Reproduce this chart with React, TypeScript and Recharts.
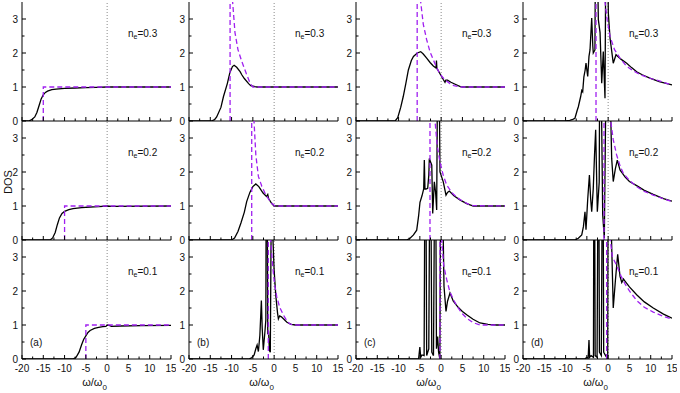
import React from "react";
import { LineChart, Line, XAxis, YAxis, ReferenceLine } from "recharts";

type Pt = [number, number];

const xTicks = [-20, -17.5, -15, -12.5, -10, -7.5, -5, -2.5, 0, 2.5, 5, 7.5, 10, 12.5, 15];
const yTicks = [0, 0.5, 1, 1.5, 2, 2.5, 3];
const densities = ["0.3", "0.2", "0.1"];
const panelTags = ["(a)", "(b)", "(c)", "(d)"];

// column (a)
const aBlack3: Pt[] = [[-20, 0], [-18.5, 0], [-17.8, 0.03], [-17, 0.12], [-16.5, 0.25], [-16, 0.45], [-15.5, 0.65], [-15, 0.77], [-14.5, 0.84], [-14, 0.88], [-13, 0.92], [-12, 0.94], [-10, 0.96], [-7.5, 0.97], [-5, 0.98], [-2.5, 0.99], [0, 1], [15, 1]];
const aPurple3: Pt[] = [[-15, 0], [-15, 1], [15, 1]];
const aBlack2: Pt[] = [[-20, 0], [-13.4, 0], [-12.8, 0.06], [-12.2, 0.22], [-11.7, 0.45], [-11.2, 0.65], [-10.6, 0.78], [-10, 0.84], [-9, 0.89], [-8, 0.92], [-6, 0.95], [-4, 0.97], [-2, 0.98], [0, 1], [1, 0.99], [15, 1]];
const aPurple2: Pt[] = [[-10, 0], [-10, 1], [15, 1]];
const aBlack1: Pt[] = [[-20, 0], [-8, 0], [-7.3, 0.05], [-6.6, 0.2], [-6, 0.42], [-5.5, 0.58], [-5, 0.68], [-4.5, 0.78], [-4, 0.84], [-3, 0.9], [-2, 0.93], [-1, 0.95], [-0.3, 0.96], [0, 1], [0.5, 0.99], [1, 0.96], [3, 0.97], [8, 0.98], [15, 0.99]];
const aPurple1: Pt[] = [[-5, 0], [-5, 1], [15, 1]];

// column (b)
const bBlack3: Pt[] = [[-20, 0], [-14.7, 0], [-14, 0.04], [-13.5, 0.12], [-12.5, 0.4], [-11.9, 0.72], [-11, 1.1], [-10.4, 1.42], [-9.8, 1.6], [-9.4, 1.64], [-8.8, 1.58], [-8, 1.45], [-7.6, 1.36], [-7, 1.25], [-6, 1.1], [-5.5, 1.04], [-4.5, 1.01], [-4, 1], [15, 1]];
const bPurple3: Pt[] = [[-10.35, 0], [-10.35, 6], [-9.9, 6], [-9.75, 3.5], [-9.2, 2.6], [-8.5, 2.1], [-7.6, 1.75], [-6.5, 1.38], [-5.6, 1.1], [-5, 1], [15, 1]];
const bBlack2: Pt[] = [[-20, 0], [-10, 0], [-9.3, 0.06], [-8.5, 0.25], [-7.8, 0.5], [-7, 0.82], [-6.45, 1.13], [-5.7, 1.4], [-5, 1.57], [-4.3, 1.65], [-3.6, 1.57], [-2.6, 1.38], [-1.8, 1.28], [-1.5, 1.34], [-1.3, 1.22], [-0.6, 1.08], [0, 1], [15, 1]];
const bPurple2: Pt[] = [[-5.27, 0], [-5.27, 6], [-4.9, 6], [-4.73, 3.5], [-4.3, 2.5], [-3.7, 1.87], [-2.9, 1.58], [-2.15, 1.38], [-1.3, 1.2], [-0.57, 1.08], [0.2, 1], [15, 1]];
const bBlack1: Pt[] = [[-20, 0], [-6, 0], [-5.3, 0.03], [-4.7, 0.12], [-4.3, 0.3], [-4, 0.41], [-3.7, 0.22], [-3.35, 0.7], [-3, 1.72], [-2.8, 0.9], [-2.55, 0.27], [-2.2, 0.75], [-1.95, 1.15], [-1.85, 6], [-1.65, 6], [-1.5, 0.76], [-1.3, 0.78], [-1.1, 0.25], [-0.9, 0.2], [-0.6, 6], [-0.3, 3.6], [0, 2.6], [0.4, 1.85], [0.8, 1.35], [1, 1.18], [1.3, 1.27], [1.7, 1.24], [2.3, 1.17], [3, 1.08], [4, 1.02], [5, 1], [15, 1]];
const bPurple1: Pt[] = [[-1.37, 0], [-1.37, 6], [-0.95, 6], [-0.8, 3.5], [-0.4, 2.8], [0.1, 2.2], [0.6, 1.84], [1.3, 1.52], [2.15, 1.3], [3, 1.12], [3.7, 1.03], [4.5, 1], [15, 1]];

// column (c)
const cBlack3: Pt[] = [[-20, 0], [-10.8, 0], [-10.2, 0.1], [-9.5, 0.4], [-8.9, 0.72], [-8.3, 1.1], [-7.7, 1.5], [-7, 1.78], [-6.5, 1.9], [-5.6, 2], [-4.8, 2.04], [-4.2, 1.97], [-3.4, 1.85], [-2.6, 1.72], [-1.84, 1.62], [-1.2, 1.56], [-1.1, 1.78], [-1, 1.55], [-0.27, 1.39], [0.5, 1.22], [0.9, 1.14], [1.1, 1.2], [1.5, 1.2], [2.3, 1.14], [3.3, 1.08], [4.5, 1.01], [5, 1], [15, 1]];
const cPurple3: Pt[] = [[-5.63, 0], [-5.63, 6], [-5, 6], [-4.8, 3.5], [-4.2, 2.85], [-3.4, 2.39], [-2.6, 2.03], [-1.84, 1.8], [-1, 1.56], [-0.27, 1.38], [0.8, 1.22], [2.08, 1.1], [3, 1.04], [4.4, 1], [15, 1]];
const cBlack2: Pt[] = [[-20, 0], [-8.1, 0], [-7.3, 0.05], [-6.5, 0.15], [-5.74, 0.29], [-5.3, 0.7], [-4.97, 1.11], [-4.5, 1.3], [-4.1, 1.5], [-3.95, 2.35], [-3.8, 1.5], [-3.56, 1.5], [-3.16, 1.52], [-2.9, 1.9], [-2.78, 2.4], [-2.5, 2.3], [-2.2, 2.2], [-1.98, 0.78], [-1.6, 1.71], [-1.3, 1.4], [-1.05, 0.88], [-0.8, 6], [-0.55, 6], [-0.27, 2], [0.5, 1.71], [1.14, 1.32], [1.5, 1.4], [1.92, 1.44], [3, 1.3], [4.4, 1.18], [6, 1.07], [7.55, 1], [15, 1]];
const cPurple2: Pt[] = [[-2.62, 0], [-2.62, 6], [-1.6, 6], [-1.44, 3.5], [-0.9, 2.75], [-0.27, 2.3], [0.5, 1.9], [1.3, 1.62], [2.48, 1.4], [3.8, 1.24], [5.2, 1.13], [6.5, 1.05], [7.55, 1.01], [15, 1]];
const cBlack1: Pt[] = [[-20, 0], [-5.3, 0], [-5, 0.35], [-4.8, 0.05], [-4.5, 0.12], [-4, 0.1], [-3.8, 6], [-3.6, 6], [-3.4, 0.1], [-2.9, 0.3], [-2.65, 6], [-2.45, 6], [-2.2, 0.2], [-1.8, 0.1], [-1.5, 6], [-1.3, 6], [-1.1, 0.3], [-0.82, 0.66], [-0.6, 0.2], [-0.3, 0], [-0.1, 6], [0.2, 6], [0.67, 2.14], [1.14, 1.4], [1.5, 1.7], [2.08, 1.94], [2.86, 1.7], [4, 1.52], [5, 1.4], [6, 1.3], [7.5, 1.17], [9.13, 1.06], [11, 1.02], [13, 1], [15, 1]];
const cPurple1: Pt[] = [[-0.27, 0], [-0.27, 6], [0, 6], [0.13, 3.5], [0.6, 2.75], [1.3, 2.34], [2, 2], [2.86, 1.75], [4, 1.5], [5, 1.33], [6, 1.2], [7.5, 1.07], [9.13, 1], [15, 1]];

// column (d)
const dBlack3: Pt[] = [[-20, 0], [-10.1, 0], [-9, 0.02], [-8.3, 0.05], [-7.8, 0.08], [-7.3, 0.3], [-7, 0.42], [-6.45, 0.72], [-6.2, 0.9], [-5.98, 0.86], [-5.7, 1.3], [-5.4, 1.5], [-5.2, 1.7], [-4.8, 1.31], [-4.5, 1.9], [-4.26, 2.09], [-3.86, 3.03], [-3.6, 2.2], [-3.49, 2], [-3.1, 2.09], [-2.95, 6], [-2.7, 6], [-2.3, 2.98], [-1.9, 2.6], [-1.51, 1.11], [-1.14, 2.04], [-0.74, 0.67], [-0.5, 6], [-0.2, 6], [0.04, 3.18], [0.44, 2.44], [1.2, 1.7], [1.85, 1.95], [2.3, 1.9], [3, 1.82], [4.36, 1.7], [5.5, 1.57], [6.7, 1.45], [8, 1.36], [9.8, 1.26], [12, 1.16], [15, 1.06]];
const dPurple3: Pt[] = [[-2.85, 0], [-2.85, 6], [-0.9, 6], [-0.74, 3.5], [-0.2, 2.95], [0.44, 2.49], [1.5, 2.1], [2.79, 1.85], [4, 1.66], [5, 1.55], [6.7, 1.42], [8, 1.34], [10, 1.25], [12.2, 1.17], [15, 1.06]];
const dBlack2: Pt[] = [[-20, 0], [-7.8, 0], [-7, 0.05], [-6.2, 0.15], [-5.8, 0.4], [-5.44, 0.83], [-5.2, 0.3], [-4.8, 1.2], [-4.4, 1.91], [-4.1, 1.2], [-3.86, 0.83], [-3.5, 1.5], [-3.2, 2.5], [-2.93, 3.24], [-2.54, 0.83], [-2.1, 1.7], [-1.95, 6], [-1.75, 6], [-1.28, 0.74], [-0.9, 0.05], [-0.4, 6], [0.2, 6], [0.83, 2.4], [1.2, 1.72], [1.7, 2.1], [2.15, 2.35], [2.79, 2.06], [4, 1.85], [5, 1.72], [6.7, 1.6], [8.5, 1.46], [10.6, 1.34], [13, 1.22], [15, 1.14]];
const dPurple2: Pt[] = [[-0.97, 0], [-0.97, 6], [0.4, 6], [0.6, 3.5], [1.2, 2.95], [2, 2.5], [2.8, 2.18], [3.56, 1.96], [5, 1.75], [6.7, 1.57], [8.5, 1.43], [10.6, 1.32], [13, 1.21], [15, 1.13]];
const dBlack1: Pt[] = [[-20, 0], [-5.5, 0], [-5, 0.05], [-4.7, 0.02], [-4.5, 0.56], [-4.35, 0.05], [-4, 0.1], [-3.45, 0.05], [-3.35, 6], [-3.2, 6], [-3.05, 0.1], [-2.6, 0.05], [-2.35, 6], [-2.2, 6], [-2.05, 0.2], [-1.6, 0.1], [-1.35, 6], [-1.2, 6], [-1.05, 0.2], [-0.6, 0.1], [-0.1, 0], [0, 6], [0.3, 6], [1.2, 1.5], [1.7, 2.3], [2.24, 3.08], [2.79, 2.43], [3.2, 2.25], [3.6, 2.35], [3.96, 2.29], [5, 2.12], [6.7, 1.89], [8.5, 1.68], [10.6, 1.5], [13, 1.32], [15, 1.2]];
const dPurple1: Pt[] = [[-0.35, 0], [-0.35, 6], [0.3, 6], [0.5, 3.5], [1, 3], [2, 2.75], [3, 2.45], [4, 2.2], [5, 2], [6.7, 1.72], [8.5, 1.52], [10.6, 1.38], [13, 1.25], [15, 1.17]];

const blackSeries: Pt[][][] = [
  [aBlack3, aBlack2, aBlack1],
  [bBlack3, bBlack2, bBlack1],
  [cBlack3, cBlack2, cBlack1],
  [dBlack3, dBlack2, dBlack1],
];
const purpleSeries: Pt[][][] = [
  [aPurple3, aPurple2, aPurple1],
  [bPurple3, bPurple2, bPurple1],
  [cPurple3, cPurple2, cPurple1],
  [dPurple3, dPurple2, dPurple1],
];

const FONT = "'Liberation Sans', Arial, Helvetica, sans-serif";
const PURPLE = "#a020f0";
const colLeft = [22, 189, 356, 523];
const rowTop = [2, 121, 240];
const PW = 149;
const PH = 119;

const toRows = (pts: Pt[]) => pts.map(([x, y]) => ({ x, y }));

function XTick({ x, y, payload, showLabel }: any) {
  const major = payload.value % 5 === 0;
  return (
    <g>
      <line x1={x} y1={y} x2={x} y2={y - (major ? 4 : 2.5)} stroke="#000" strokeWidth={1} />
      {showLabel && major && (
        <text x={x} y={y + 12.5} textAnchor="middle" fontSize={10} fontFamily={FONT} fill="#111">
          {payload.value}
        </text>
      )}
    </g>
  );
}

function YTick({ x, y, payload }: any) {
  const major = Number.isInteger(payload.value);
  return (
    <g>
      <line x1={x} y1={y} x2={x + (major ? 4 : 2.5)} y2={y} stroke="#000" strokeWidth={1} />
      {major && (
        <text x={x - 4} y={y + 3.6} textAnchor="end" fontSize={10} fontFamily={FONT} fill="#111">
          {payload.value}
        </text>
      )}
    </g>
  );
}

function Panel({ col, row }: { col: number; row: number }) {
  const bottomRow = row === 2;
  return (
    <div style={{ position: "absolute", left: colLeft[col] - 30, top: rowTop[row] - 5 }}>
      <LineChart width={30 + PW + 5} height={5 + PH + 30} margin={{ top: 5, right: 5, left: 0, bottom: 0 }}>
        <XAxis
          dataKey="x"
          type="number"
          domain={[-20, 15]}
          ticks={xTicks}
          interval={0}
          allowDataOverflow
          height={30}
          tickSize={0}
          tickMargin={0}
          tickLine={false}
          axisLine={{ stroke: "#000" }}
          tick={(p: any) => <XTick {...p} showLabel={bottomRow} />}
        />
        <XAxis xAxisId="top" orientation="top" type="number" domain={[-20, 15]} height={0} tick={false} tickLine={false} axisLine={{ stroke: "#000" }} />
        <YAxis
          type="number"
          domain={[0, 3.5]}
          ticks={yTicks}
          interval={0}
          allowDataOverflow
          width={30}
          tickSize={0}
          tickMargin={0}
          tickLine={false}
          axisLine={{ stroke: "#000" }}
          tick={(p: any) => <YTick {...p} />}
        />
        <YAxis yAxisId="right" orientation="right" type="number" domain={[0, 3.5]} width={0} tick={false} tickLine={false} axisLine={{ stroke: "#000" }} />
        <ReferenceLine x={0} stroke="#8a8a8a" strokeDasharray="1 2" />
        <Line
          data={toRows(blackSeries[col][row])}
          dataKey="y"
          type="linear"
          stroke="#000"
          strokeWidth={1.3}
          dot={false}
          activeDot={false}
          isAnimationActive={false}
        />
        <Line
          data={toRows(purpleSeries[col][row])}
          dataKey="y"
          type="linear"
          stroke={PURPLE}
          strokeWidth={1.3}
          strokeDasharray="5 3"
          dot={false}
          activeDot={false}
          isAnimationActive={false}
        />
      </LineChart>
    </div>
  );
}

export default function App() {
  return (
    <div style={{ position: "absolute", left: 0, top: 0, width: 680, height: 393, background: "#fff", fontFamily: FONT }}>
      {colLeft.map((_, c) => rowTop.map((_, r) => <Panel key={`${c}-${r}`} col={c} row={r} />))}
      <svg width={680} height={393} style={{ position: "absolute", left: 0, top: 0, pointerEvents: "none" }}>
        <text transform="translate(11.5,182) rotate(-90)" textAnchor="middle" fontSize={11} fontFamily={FONT} fill="#111">
          DOS
        </text>
        {colLeft.map((L, c) => (
          <g key={c}>
            <text x={L + PW / 2 - 2} y={386} textAnchor="middle" fontSize={11} fontFamily={FONT} fill="#111">
              ω/ω
              <tspan fontSize={8} dy={4}>0</tspan>
            </text>
            <text x={L + 8} y={rowTop[2] + 105.5} fontSize={10} fontFamily={FONT} fill="#111">
              {panelTags[c]}
            </text>
            {rowTop.map((T, r) => (
              <text key={r} x={L + 106} y={T + 34.5} fontSize={10} fontFamily={FONT} fill="#111">
                n
                <tspan fontSize={7} dy={2.5}>e</tspan>
                <tspan dy={-2.5}>={densities[r]}</tspan>
              </text>
            ))}
          </g>
        ))}
      </svg>
    </div>
  );
}
